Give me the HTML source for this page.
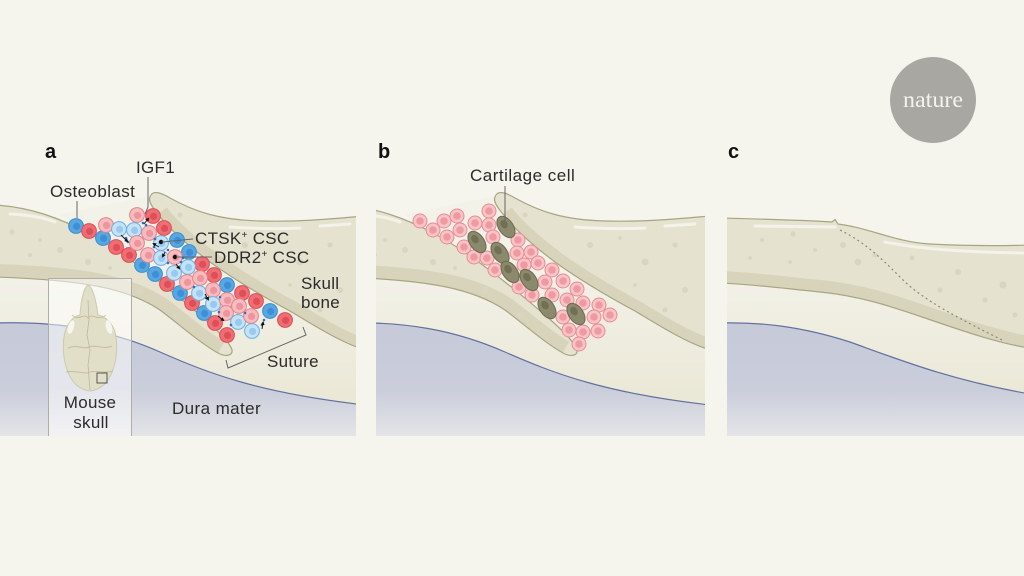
<!DOCTYPE html>
<html><head><meta charset="utf-8"><style>
html,body{margin:0;padding:0;background:#f5f4ed;}
svg{display:block;}
text{font-family:"Liberation Sans",sans-serif;fill:#2b2b2b;}
</style></head><body>
<svg width="1024" height="576" viewBox="0 0 1024 576" xmlns="http://www.w3.org/2000/svg">
<defs>
<linearGradient id="cream" x1="0" y1="270" x2="0" y2="420" gradientUnits="userSpaceOnUse"><stop offset="0" stop-color="#f3f2e9"/><stop offset="1" stop-color="#e9e6d3"/></linearGradient>
<linearGradient id="dura" x1="0" y1="320" x2="0" y2="436" gradientUnits="userSpaceOnUse"><stop offset="0" stop-color="#c6cad9"/><stop offset="0.6" stop-color="#cacdda"/><stop offset="1" stop-color="#e4e5e8"/></linearGradient>
<clipPath id="cA"><rect x="0" y="0" width="356" height="436"/></clipPath>
<clipPath id="cB"><rect x="376" y="0" width="329" height="436"/></clipPath>
<clipPath id="cC"><rect x="727" y="0" width="297" height="436"/></clipPath>
<clipPath id="lb"><path id="lbp" d="M-5,205 C30,207 60,218 90,234 C125,253 165,285 200,315 C215,328 230,342 232,350 C233,356 225,357 218,353 C200,343 180,325 160,310 C130,290 90,280 -5,277 Z"/></clipPath>
<clipPath id="rb"><path d="M150,197 C152,190 160,192 170,198 C195,212 220,220 260,221 C300,222 330,219 365,216 L365,350 C340,342 315,326 290,311 C262,296 235,280 210,262 C190,247 170,230 158,214 C152,207 148,201 150,197 Z"/></clipPath>
<clipPath id="cb"><path d="M720,218 C760,219 800,220 832,222 L835,219.5 L838,224 C870,228 895,242 930,244 C970,246 1000,246 1030,245 L1030,348 C1000,344 960,330 925,318 C890,306 860,296 820,292 C780,288 750,284 720,283 Z"/></clipPath>
<g id="R"><circle r="7.4" fill="#ee6e73" stroke="#dc4e56" stroke-width="1"/><circle cx="0.6" cy="0.4" r="3.6" fill="#de4f58"/></g>
<g id="P"><circle r="7.4" fill="#f6bcc0" stroke="#e6838a" stroke-width="1"/><circle cx="0.6" cy="0.4" r="3.6" fill="#ee959c"/></g>
<g id="B"><circle r="7.4" fill="#56a7e2" stroke="#3d8ed2" stroke-width="1"/><circle cx="0.6" cy="0.4" r="3.6" fill="#3f8fd4"/></g>
<g id="L"><circle r="7.4" fill="#c6e2f6" stroke="#6cb0e4" stroke-width="1"/><circle cx="0.6" cy="0.4" r="3.6" fill="#98c9ee"/></g>
<g id="Q"><circle r="7" fill="#f7c4c7" stroke="#e98d93" stroke-width="1"/><circle r="3.8" fill="#ef9aa1"/></g>
<g id="K"><g transform="rotate(55)"><ellipse rx="12" ry="7.2" fill="#8c8a6c" stroke="#6c6a4f" stroke-width="1"/><ellipse cx="-3.5" cy="0" rx="4.5" ry="3.5" fill="#717055"/></g></g>
<marker id="ah" markerWidth="4" markerHeight="4" refX="2" refY="2" orient="auto" markerUnits="userSpaceOnUse"><path d="M0,0 L4,2 L0,4 Z" fill="#111"/></marker>
<g id="scene">
  <rect x="-5" y="255" width="370" height="190" fill="url(#cream)"/>
  <path d="M-5,323 C60,321 110,330 160,352 C210,374 260,393 365,405 L365,445 L-5,445 Z" fill="url(#dura)"/>
  <path d="M-5,323 C60,321 110,330 160,352 C210,374 260,393 365,405" fill="none" stroke="#62719f" stroke-width="1.2"/>
  <path d="M60,214 L152,196 L300,318 L300,340 L232,354 Z" fill="url(#cream)"/>
  <g clip-path="url(#lb)">
    <rect x="-5" y="195" width="245" height="170" fill="#e5e2cf"/>
    <path d="M218,353 C200,343 180,325 160,310 C130,290 90,280 -5,277" fill="none" stroke="#d8d4bc" stroke-width="26"/>
    <path d="M10,214 C30,215 45,218 55,222" fill="none" stroke="#f4f3ea" stroke-width="3" stroke-linecap="round"/>
    <circle cx="12" cy="232" r="2.5" fill="#d8d5c0"/><circle cx="40" cy="240" r="2" fill="#d8d5c0"/><circle cx="60" cy="250" r="3" fill="#d8d5c0"/><circle cx="30" cy="255" r="2" fill="#d8d5c0"/><circle cx="88" cy="262" r="3" fill="#d8d5c0"/><circle cx="110" cy="268" r="2" fill="#d8d5c0"/><circle cx="140" cy="290" r="3.5" fill="#d8d5c0"/><circle cx="175" cy="315" r="3" fill="#d8d5c0"/>
  </g>
  <path d="M-5,205 C30,207 60,218 90,234 C125,253 165,285 200,315 C215,328 230,342 232,350 C233,356 225,357 218,353 C200,343 180,325 160,310 C130,290 90,280 -5,277" fill="none" stroke="#a9a582" stroke-width="1.2"/>
  <g clip-path="url(#rb)">
    <rect x="140" y="185" width="230" height="170" fill="#e5e2cf"/>
    <path d="M365,350 C340,342 315,326 290,311 C262,296 235,280 210,262 C190,247 170,230 158,214" fill="none" stroke="#d8d4bc" stroke-width="22"/>
    <path d="M230,227 C260,229 280,229 300,228" fill="none" stroke="#f4f3ea" stroke-width="3" stroke-linecap="round"/>
    <path d="M320,226 L350,224" fill="none" stroke="#f4f3ea" stroke-width="3" stroke-linecap="round"/>
    <circle cx="180" cy="215" r="2.5" fill="#d8d5c0"/><circle cx="245" cy="245" r="3" fill="#d8d5c0"/><circle cx="275" cy="238" r="2" fill="#d8d5c0"/><circle cx="300" cy="262" r="3.5" fill="#d8d5c0"/><circle cx="330" cy="245" r="2.5" fill="#d8d5c0"/><circle cx="340" cy="290" r="3" fill="#d8d5c0"/><circle cx="290" cy="285" r="2" fill="#d8d5c0"/><circle cx="320" cy="310" r="2.5" fill="#d8d5c0"/>
  </g>
  <path d="M150,197 C152,190 160,192 170,198 C195,212 220,220 260,221 C300,222 330,219 365,216 M365,350 C340,342 315,326 290,311 C262,296 235,280 210,262 C190,247 170,230 158,214 C152,207 148,201 150,197" fill="none" stroke="#a9a582" stroke-width="1.2"/>
</g>
</defs>

<!-- PANEL A -->
<g clip-path="url(#cA)">
  <use href="#scene"/>
  <use href="#B" x="76" y="226"/><use href="#R" x="89" y="231"/><use href="#B" x="103" y="238"/><use href="#R" x="116" y="247"/><use href="#R" x="129" y="255"/><use href="#B" x="142" y="265"/><use href="#B" x="155" y="274"/><use href="#R" x="167" y="284"/><use href="#B" x="180" y="293"/><use href="#R" x="192" y="303"/><use href="#B" x="204" y="313"/><use href="#R" x="215" y="323"/><use href="#R" x="227" y="335"/>
  <use href="#R" x="153" y="216"/><use href="#R" x="164" y="228"/><use href="#B" x="177" y="240"/><use href="#B" x="189" y="252"/><use href="#R" x="202" y="264"/><use href="#R" x="214" y="275"/><use href="#B" x="227" y="285"/><use href="#R" x="242" y="293"/><use href="#R" x="256" y="301"/><use href="#B" x="270" y="311"/><use href="#R" x="285" y="320"/>
  <use href="#P" x="137" y="215"/><use href="#P" x="106" y="225"/><use href="#L" x="119" y="229"/><use href="#L" x="134" y="230"/><use href="#P" x="149" y="233"/><use href="#L" x="161" y="243"/><use href="#P" x="137" y="243"/><use href="#P" x="148" y="255"/><use href="#L" x="161" y="258"/><use href="#P" x="175" y="257"/><use href="#L" x="174" y="273"/><use href="#L" x="188" y="267"/><use href="#P" x="187" y="282"/><use href="#P" x="200" y="278"/><use href="#L" x="199" y="293"/><use href="#P" x="213" y="290"/><use href="#L" x="213" y="304"/><use href="#P" x="227" y="300"/><use href="#P" x="226" y="313"/><use href="#P" x="239" y="306"/><use href="#L" x="238" y="322"/><use href="#P" x="251" y="316"/><use href="#L" x="252" y="331"/>
  <g fill="#2e6ec3">
    <circle cx="126" cy="238" r="1.3"/><circle cx="128" cy="242" r="1.3"/><circle cx="143" cy="223" r="1.3"/><circle cx="146" cy="225" r="1.3"/><circle cx="155" cy="239" r="1.3"/><circle cx="168" cy="263" r="1.3"/><circle cx="181" cy="262" r="1.3"/><circle cx="194" cy="287" r="1.3"/><circle cx="206" cy="298" r="1.3"/><circle cx="219" cy="312" r="1.3"/><circle cx="231" cy="325" r="1.3"/><circle cx="245" cy="313" r="1.3"/><circle cx="262" cy="325" r="1.3"/><circle cx="264" cy="320" r="1.3"/><circle cx="154" cy="247" r="1.3"/><circle cx="183" cy="258" r="1.3"/><circle cx="168" cy="250" r="1.3"/><circle cx="220" cy="297" r="1.3"/>
  </g>
  <g stroke="#111" stroke-width="0.9" fill="none" marker-end="url(#ah)">
    <path d="M121,235 L127,241"/><path d="M144,224 L148,219"/><path d="M159,247 L154,244"/><path d="M176,264 L179,268"/><path d="M205,294 L208,299"/><path d="M262,329 L263,323"/><path d="M218,316 L223,320"/><path d="M165,252 L163,256"/>
  </g>
  <circle cx="161" cy="242" r="2.2" fill="#111"/>
  <circle cx="175" cy="257" r="2.2" fill="#111"/>
  <g stroke="#666" stroke-width="1" fill="none">
    <path d="M77,201 L77,218"/>
    <path d="M148,177 L148,207 L145,214"/>
    <path d="M162,242 L193,239"/>
    <path d="M176,257 L212,257"/>
    <path d="M226,360 L228,368 L306,335 L303,327"/>
  </g>
  <rect x="48.5" y="278.5" width="83" height="158" fill="#ffffff" fill-opacity="0.5" stroke="#aeaea6" stroke-width="1"/>
  <path d="M88,285 C93,287 96,300 98,315 C104,316 112,322 115,332 C118,345 117,360 112,372 C108,383 100,390 90,391 C80,390 72,383 68,372 C63,360 62,345 65,332 C68,322 74,316 80,315 C81,300 84,287 88,285 Z" fill="#e2dfc8" stroke="#cdc9ae" stroke-width="1"/>
  <ellipse cx="71" cy="327" rx="3" ry="7" fill="#f6f5ef" transform="rotate(15 71 327)"/>
  <ellipse cx="109" cy="327" rx="3" ry="7" fill="#f6f5ef" transform="rotate(-15 109 327)"/>
  <g stroke="#bdb89a" stroke-width="0.8" fill="none">
    <path d="M88,300 L89,320 L87,335 L90,350 L88,365 L90,390"/>
    <path d="M72,315 C80,322 84,312 88,318 C92,312 98,322 106,315"/>
    <path d="M68,348 C78,344 84,350 89,347 C95,344 103,350 112,346"/>
    <path d="M66,372 C78,370 85,375 90,372 C97,370 104,374 113,371"/>
  </g>
  <rect x="97" y="373" width="10" height="10" fill="none" stroke="#555" stroke-width="1"/>
  <text x="45" y="158" font-size="20" font-weight="bold" style="fill:#111">a</text>
  <text x="136" y="173" font-size="17" letter-spacing="0.3">IGF1</text>
  <text x="50" y="197" font-size="17" letter-spacing="0.4">Osteoblast</text>
  <text x="195" y="244" font-size="17" letter-spacing="0.3">CTSK<tspan dy="-6" font-size="10">+</tspan><tspan dy="6"> CSC</tspan></text>
  <text x="214" y="263" font-size="17" letter-spacing="0.3">DDR2<tspan dy="-6" font-size="10">+</tspan><tspan dy="6"> CSC</tspan></text>
  <text x="301" y="289" font-size="17" letter-spacing="0.3">Skull</text>
  <text x="301" y="308" font-size="17" letter-spacing="0.3">bone</text>
  <text x="267" y="367" font-size="17" letter-spacing="0.3">Suture</text>
  <text x="172" y="414" font-size="17" letter-spacing="0.4">Dura mater</text>
  <text x="90" y="408" font-size="17" text-anchor="middle" letter-spacing="0.3">Mouse</text>
  <text x="91" y="428" font-size="17" text-anchor="middle" letter-spacing="0.3">skull</text>
</g>

<!-- PANEL B -->
<g clip-path="url(#cB)">
  <use href="#scene" x="345"/>
  <use href="#Q" x="420" y="221"/><use href="#Q" x="433" y="230"/><use href="#Q" x="444" y="221"/><use href="#Q" x="457" y="216"/><use href="#Q" x="460" y="230"/><use href="#Q" x="447" y="237"/><use href="#Q" x="475" y="223"/><use href="#Q" x="489" y="211"/><use href="#Q" x="489" y="225"/><use href="#Q" x="493" y="237"/><use href="#Q" x="464" y="247"/><use href="#Q" x="474" y="257"/><use href="#Q" x="487" y="258"/><use href="#Q" x="495" y="270"/><use href="#Q" x="518" y="240"/><use href="#Q" x="517" y="253"/><use href="#Q" x="531" y="252"/><use href="#Q" x="524" y="265"/><use href="#Q" x="538" y="263"/><use href="#Q" x="552" y="270"/><use href="#Q" x="519" y="287"/><use href="#Q" x="532" y="295"/><use href="#Q" x="545" y="282"/><use href="#Q" x="563" y="281"/><use href="#Q" x="552" y="295"/><use href="#Q" x="577" y="289"/><use href="#Q" x="567" y="300"/><use href="#Q" x="583" y="303"/><use href="#Q" x="599" y="305"/><use href="#Q" x="610" y="315"/><use href="#Q" x="594" y="317"/><use href="#Q" x="563" y="317"/><use href="#Q" x="569" y="330"/><use href="#Q" x="583" y="332"/><use href="#Q" x="598" y="331"/><use href="#Q" x="579" y="344"/>
  <use href="#K" x="506" y="227"/><use href="#K" x="477" y="242"/><use href="#K" x="500" y="253"/><use href="#K" x="510" y="272"/><use href="#K" x="529" y="280"/><use href="#K" x="547" y="308"/><use href="#K" x="576" y="314"/>
  <path d="M505,186 L505,222" stroke="#666" stroke-width="1" fill="none"/>
  <text x="378" y="158" font-size="20" font-weight="bold" style="fill:#111">b</text>
  <text x="470" y="181" font-size="17" letter-spacing="0.5">Cartilage cell</text>
</g>

<!-- PANEL C -->
<g clip-path="url(#cC)">
  <rect x="720" y="255" width="310" height="190" fill="url(#cream)"/>
  <path d="M720,323 C760,322 800,326 850,342 C900,360 950,380 1030,394 L1030,445 L720,445 Z" fill="url(#dura)"/>
  <path d="M720,323 C760,322 800,326 850,342 C900,360 950,380 1030,394" fill="none" stroke="#62719f" stroke-width="1.2"/>
  <g clip-path="url(#cb)">
    <rect x="715" y="210" width="320" height="145" fill="#e5e2cf"/>
    <path d="M1030,348 C1000,344 960,330 925,318 C890,306 860,296 820,292 C780,288 750,284 720,283" fill="none" stroke="#d8d4bc" stroke-width="24"/>
    <path d="M755,226 L835,227" fill="none" stroke="#f4f3ea" stroke-width="3" stroke-linecap="round"/>
    <path d="M885,242 C920,249 960,252 1024,253" fill="none" stroke="#f4f3ea" stroke-width="3" stroke-linecap="round"/>
    <circle cx="762" cy="240" r="2" fill="#d8d5c0"/><circle cx="793" cy="234" r="2.5" fill="#d8d5c0"/><circle cx="815" cy="250" r="2" fill="#d8d5c0"/><circle cx="843" cy="245" r="3" fill="#d8d5c0"/><circle cx="858" cy="262" r="3.5" fill="#d8d5c0"/><circle cx="875" cy="255" r="2.5" fill="#d8d5c0"/><circle cx="912" cy="258" r="2.5" fill="#d8d5c0"/><circle cx="958" cy="272" r="3" fill="#d8d5c0"/><circle cx="1003" cy="285" r="3.5" fill="#d8d5c0"/><circle cx="985" cy="300" r="2.5" fill="#d8d5c0"/><circle cx="940" cy="290" r="2.5" fill="#d8d5c0"/><circle cx="790" cy="262" r="2" fill="#d8d5c0"/><circle cx="750" cy="258" r="2" fill="#d8d5c0"/><circle cx="1015" cy="315" r="2.5" fill="#d8d5c0"/>
  </g>
  <path d="M720,218 C760,219 800,220 832,222 L835,219.5 L838,224 C870,228 895,242 930,244 C970,246 1000,246 1030,245 M1030,348 C1000,344 960,330 925,318 C890,306 860,296 820,292 C780,288 750,284 720,283" fill="none" stroke="#a9a582" stroke-width="1.2"/>
  <path d="M840,230 C868,244 885,262 905,282 C925,300 950,314 1002,340" fill="none" stroke="#8f8b6e" stroke-width="1.2" stroke-dasharray="2,3"/>
  <text x="728" y="158" font-size="20" font-weight="bold" style="fill:#111">c</text>
</g>

<circle cx="933" cy="100" r="43" fill="#a8a7a2"/>
<text x="933" y="107" text-anchor="middle" font-size="23" textLength="60" lengthAdjust="spacingAndGlyphs" style="font-family:'Liberation Serif',serif;fill:#f4f3ee">nature</text>
</svg>
</body></html>
